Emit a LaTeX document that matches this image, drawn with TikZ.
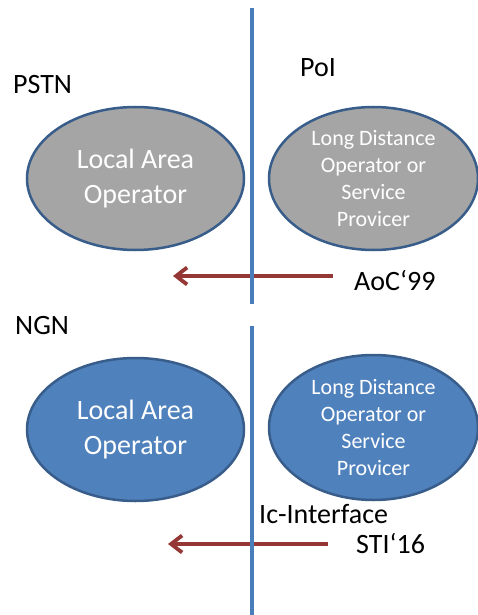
\documentclass[tikz,border=0pt]{standalone}
\usepackage{fontspec}
\setmainfont{Carlito}
\usetikzlibrary{shapes.geometric,arrows.meta}
\definecolor{opgray}{HTML}{A5A5A5}
\definecolor{opblue}{HTML}{4F81BD}
\definecolor{opline}{HTML}{385D8A}
\definecolor{divline}{HTML}{4A7EBB}
\definecolor{linkred}{HTML}{953735}
\begin{document}
\begin{tikzpicture}[x=1pt,y=-1pt,
  op/.style={ellipse, draw=opline, line width=2.5pt, inner sep=0pt,
    minimum height=143pt, text=white, align=center},
  big/.style={font=\fontsize{28}{35}\selectfont},
  small/.style={font=\fontsize{22}{26.7}\selectfont},
  tag/.style={anchor=base west, inner sep=0pt, big},
  link/.style={linkred, line width=3.8pt,
    -{Straight Barb[length=11pt,width=17pt]}},
  divide/.style={divline, line width=3.2pt},
  ]
  \useasboundingbox (0,0) rectangle (478,615);
  % PSTN
  \node[tag] (pstn) at (13,94) {PSTN};
  \node[tag] (poi) at (300,77) {PoI};
  \node[op, fill=opgray, minimum width=217pt, big] (lao1) at (135.5,178.5)
    {Local Area\\Operator};
  \node[op, fill=opgray, minimum width=209pt, small] (ldo1) at (373.5,178.5)
    {Long Distance\\Operator or\\Service\\Provicer};
  \node[tag] (aoc) at (354,290) {AoC‘99};
  \coordinate (a1) at (333,276);
  \coordinate (a2) at (173,276);
  \draw[link] (a1) -- (a2);
  % NGN
  \node[tag] (ngn) at (15,334) {NGN};
  \node[op, fill=opblue, minimum width=217pt, big] (lao2) at (135.5,429.5)
    {Local Area\\Operator};
  \node[op, fill=opblue, minimum width=209pt, minimum height=145pt, small]
    (ldo2) at (373.5,427.5)
    {Long Distance\\Operator or\\Service\\Provicer};
  \node[tag] (ic) at (259,523) {Ic-Interface};
  \node[tag] (sti) at (356,553) {STI‘16};
  \coordinate (b1) at (328,544);
  \coordinate (b2) at (168,544);
  \draw[link] (b1) -- (b2);
  % dividing line
  \coordinate (t1) at (252,8);
  \coordinate (t2) at (252,304);
  \coordinate (t3) at (252,326);
  \coordinate (t4) at (252,615);
  \draw[divide] (t1) -- (t2);
  \draw[divide] (t3) -- (t4);
\end{tikzpicture}
\end{document}
